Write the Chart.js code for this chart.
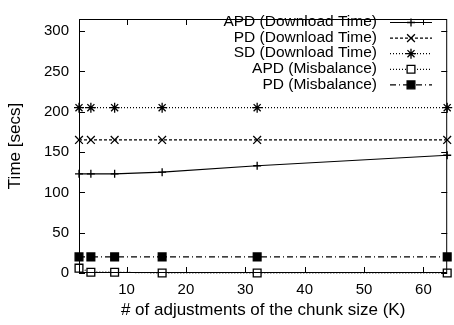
<!DOCTYPE html>
<html>
<head>
<meta charset="utf-8">
<script src="https://cdn.jsdelivr.net/npm/chart.js@4/dist/chart.umd.min.js"></script>
<style>
  html, body { margin: 0; padding: 0; background: #fff; }
  #wrap { width: 454px; height: 325px; }
</style>
</head>
<body>
<div id="wrap"><canvas id="chunkChart"></canvas></div>
<script>
// number of chunk-size adjustments (K)
const chunkK = [2, 4, 8, 16, 32, 64];
const apdDownload = [123, 123, 123, 125, 133, 146];
const pdDownload = [165, 165, 165, 165, 165, 165];
const sdDownload = [205, 205, 205, 205, 205, 205];
const apdMisbalance = [6, 1, 1, 0, 0, 0];
const pdMisbalance = [20, 20, 20, 20, 20, 20];

const xTicks = [10, 20, 30, 40, 50, 60];
const yTicks = [0, 50, 100, 150, 200, 250, 300];

const FONT = "'Liberation Sans', Arial, Helvetica, sans-serif";

const pts = (ys) => chunkK.map((k, i) => ({ x: k, y: ys[i] }));

function series(label, ys, style, dash, radius, fill) {
    return {
        label: label,
        data: pts(ys),
        borderColor: "#000",
        borderWidth: 1.2,
        borderDash: dash,
        pointStyle: style,
        pointRadius: radius,
        pointBorderColor: "#000",
        pointBorderWidth: 1.3,
        pointBackgroundColor: fill,
        tension: 0,
        fill: false,
        clip: false,
    };
}

// gnuplot-like frame: box border, inward ticks on all four sides, key at top right
const framePlugin = {
    id: "frame",
    afterDraw(chart) {
        const { ctx, chartArea: a, scales } = chart;
        const x = scales.x, y = scales.y;
        ctx.save();
        ctx.strokeStyle = "#000";
        ctx.lineWidth = 1;
        ctx.setLineDash([]);
        ctx.strokeRect(a.left + 0.5, a.top + 0.5, a.right - a.left - 1, a.bottom - a.top - 1);
        ctx.beginPath();
        xTicks.forEach((v) => {
            const px = Math.round(x.getPixelForValue(v)) + 0.5;
            ctx.moveTo(px, a.bottom); ctx.lineTo(px, a.bottom - 6);
            ctx.moveTo(px, a.top); ctx.lineTo(px, a.top + 6);
        });
        yTicks.forEach((v) => {
            const py = Math.round(y.getPixelForValue(v)) + 0.5;
            ctx.moveTo(a.left, py); ctx.lineTo(a.left + 6, py);
            ctx.moveTo(a.right, py); ctx.lineTo(a.right - 6, py);
        });
        ctx.stroke();

        // key
        ctx.font = "15.5px " + FONT;
        ctx.fillStyle = "#000";
        ctx.textAlign = "right";
        ctx.textBaseline = "middle";
        const textRight = 377, lineL = 390, lineR = 432, rowTop = 22, rowH = 15.6;
        chart.data.datasets.forEach((ds, i) => {
            const ry = rowTop + i * rowH;
            ctx.fillText(ds.label, textRight, ry);
            ctx.beginPath();
            ctx.lineWidth = ds.borderWidth;
            ctx.setLineDash(ds.borderDash);
            ctx.moveTo(lineL, ry + 0.5);
            ctx.lineTo(lineR, ry + 0.5);
            ctx.stroke();
            ctx.setLineDash([]);
            ctx.fillStyle = ds.pointBackgroundColor;
            ctx.lineWidth = ds.pointBorderWidth;
            Chart.helpers.drawPoint(ctx, { pointStyle: ds.pointStyle, radius: ds.pointRadius, rotation: 0, borderWidth: ds.pointBorderWidth }, (lineL + lineR) / 2, ry + 0.5);
            ctx.lineWidth = 1;
            ctx.fillStyle = "#000";
        });
        ctx.restore();
    },
};

new Chart(document.getElementById("chunkChart"), {
    type: "line",
    data: {
        datasets: [
            series("APD (Download Time)", apdDownload, "cross", [], 4, "#000"),
            series("PD (Download Time)", pdDownload, "crossRot", [3, 2], 5.5, "#000"),
            series("SD (Download Time)", sdDownload, "star", [1, 2], 5, "#000"),
            series("APD (Misbalance)", apdMisbalance, "rect", [1, 2], 5.5, "#fff"),
            series("PD (Misbalance)", pdMisbalance, "rect", [6, 3, 1, 3], 5.5, "#000"),
        ],
    },
    options: {
        responsive: true,
        maintainAspectRatio: false,
        animation: false,
        layout: { padding: { top: 9, right: 3, left: 0, bottom: 0 } },
        plugins: {
            legend: { display: false },
            tooltip: { enabled: false },
        },
        scales: {
            x: {
                type: "linear",
                min: 2,
                max: 64,
                afterBuildTicks: (s) => { s.ticks = xTicks.map((v) => ({ value: v })); },
                afterFit: (s) => { s.height = 52; },
                grid: { display: false, drawTicks: false },
                border: { display: false },
                ticks: { color: "#000", padding: 8, maxRotation: 0, font: { family: FONT, size: 15 } },
                title: { display: true, text: "# of adjustments of the chunk size (K)", color: "#000", padding: { top: 2 }, font: { family: FONT, size: 17 } },
            },
            y: {
                min: 0,
                max: 315,
                afterBuildTicks: (s) => { s.ticks = yTicks.map((v) => ({ value: v })); },
                afterFit: (s) => { s.width = 79; },
                grid: { display: false, drawTicks: false },
                border: { display: false },
                ticks: { color: "#000", padding: 10, font: { family: FONT, size: 15 } },
                title: { display: true, text: "Time [secs]", color: "#000", padding: { top: 5 }, font: { family: FONT, size: 17 } },
            },
        },
    },
    plugins: [framePlugin],
});
</script>
</body>
</html>
